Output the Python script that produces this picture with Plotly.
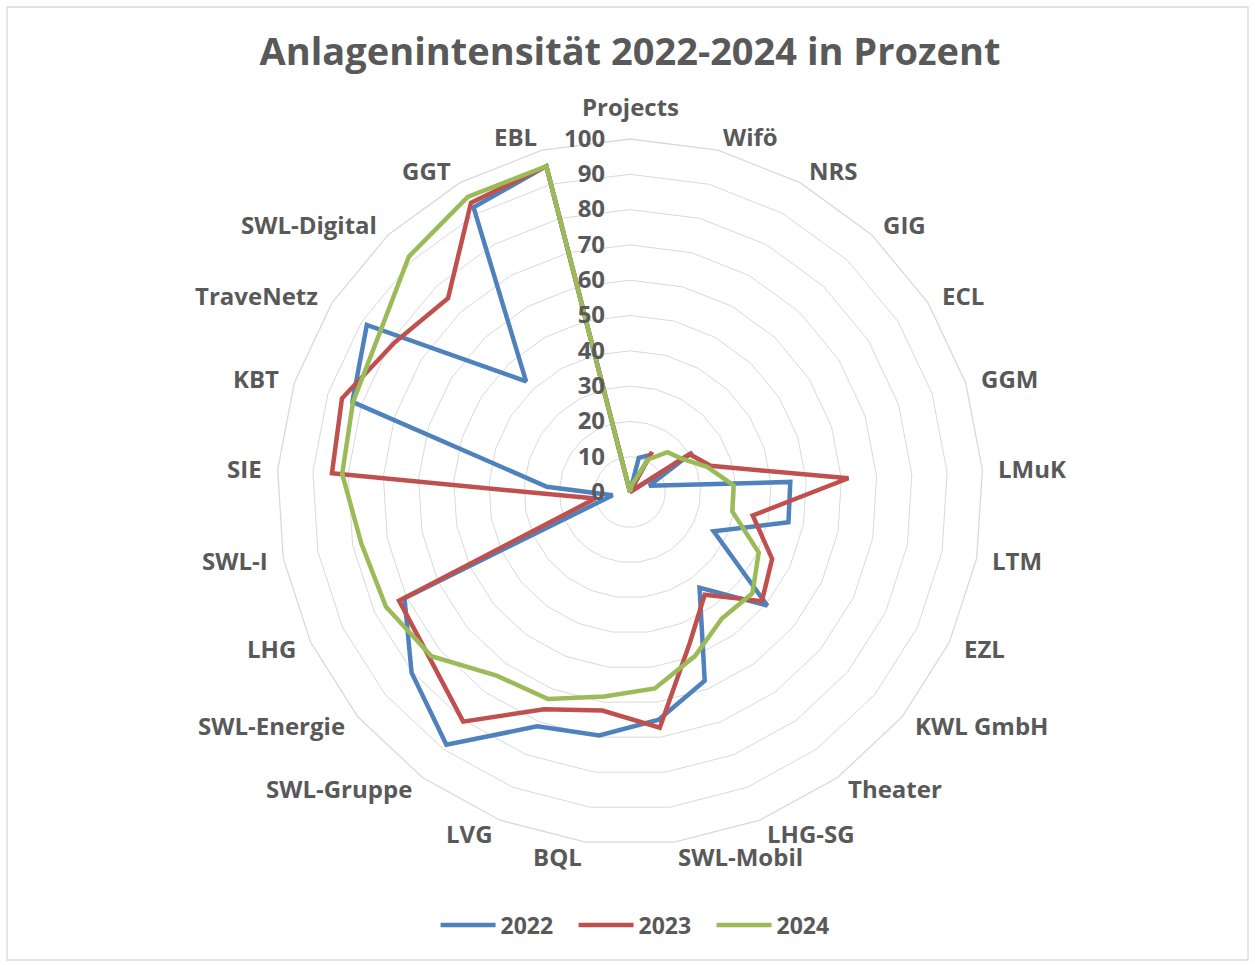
import math
import plotly.graph_objects as go

categories = ["Projects", "Wifö", "NRS", "GIG", "ECL", "GGM", "LMuK", "LTM", "EZL",
              "KWL GmbH", "Theater", "LHG-SG", "SWL-Mobil", "BQL", "LVG", "SWL-Gruppe",
              "SWL-Energie", "LHG", "SWL-I", "SIE", "KBT", "TraveNetz", "SWL-Digital",
              "GGT", "EBL"]

v2022 = [0, 10, 12, 0, 21, 5.7, 45.5, 45.7, 26.2, 50.5, 33.5, 57.5, 65, 69.5, 71.4,
         88.5, 80.3, 70.6, 5, 23.6, 82.7, 88.3, 43, 92, 95.3]
v2023 = [0, 1, 13, 0, 20, 24, 62, 35.4, 44.5, 48.5, 36, 46, 67.3, 62.4, 66.2,
         80.4, 73.7, 72.3, 10, 84.6, 85.8, 79, 75.3, 93.5, 95.3]
v2024 = [0, 2, 10.5, 15.5, 17.5, 23, 29.4, 29.5, 40.3, 45, 44.3, 50, 56.1, 58.4, 63.1,
         64.3, 73, 76.4, 77.5, 81.7, 82.5, 84, 91.5, 95.4, 95.3]

series = [("2022", v2022, "#4F81BD"), ("2023", v2023, "#C0504D"), ("2024", v2024, "#9BBB59")]

FONT = "Open Sans"
GRAY = "#595959"
FS = 24

fig = go.Figure()
for name, vals, col in series:
    fig.add_trace(go.Scatterpolar(
        r=vals + vals[:1], theta=categories + categories[:1], mode="lines", name=name,
        line=dict(color=col, width=4.5), hoverinfo="skip"))

W, H = 1255, 965
cx, cy, R = 630, 492, 353
LR = 367  # label anchor distance (px) from centre

annotations = []
n = len(categories)
for i, cat in enumerate(categories):
    th = math.radians(360.0 * i / n)
    s, c = math.sin(th), math.cos(th)
    px = cx + LR * s
    py = cy - LR * c
    if abs(s) < 1e-6:
        xa, ya = "center", "bottom"
    else:
        xa = "left" if s > 0 else "right"
        ya = "middle"
    annotations.append(dict(text=f"<b>{cat}</b>", x=px / W, y=1 - py / H,
                            xref="paper", yref="paper", xanchor=xa, yanchor=ya,
                            showarrow=False,
                            font=dict(family=FONT, size=FS, color=GRAY)))

fig.update_layout(
    width=W, height=H,
    margin=dict(l=0, r=0, t=0, b=0),
    paper_bgcolor="white",
    title=dict(text="<b>Anlagenintensität 2022-2024 in Prozent</b>",
               font=dict(family=FONT, size=38, color=GRAY),
               x=0.502, xanchor="center", y=1 - 52 / H, yanchor="middle",
               xref="paper", yref="paper"),
    polar=dict(
        domain=dict(x=[(cx - R) / W, (cx + R) / W], y=[(H - cy - R) / H, (H - cy + R) / H]),
        gridshape="linear",
        bgcolor="white",
        radialaxis=dict(range=[0, 100], dtick=10, angle=90, tickangle=90,
                        showline=False, gridcolor="#D9D9D9", gridwidth=1.3,
                        ticks="outside", ticklen=16, tickcolor="rgba(0,0,0,0)",
                        side="counterclockwise",
                        tickfont=dict(family=FONT, size=FS, color=GRAY, weight="bold")),
        angularaxis=dict(rotation=90, direction="clockwise", showgrid=False,
                         showline=True, linecolor="#D9D9D9", linewidth=1.3,
                         showticklabels=False, ticks=""),
    ),
    legend=dict(orientation="h", x=0.512, xanchor="center", y=1 - 925 / H, yanchor="middle",
                font=dict(family=FONT, size=23, color=GRAY, weight="bold"),
                itemwidth=55, entrywidth=68, tracegroupgap=0),
    annotations=annotations,
    shapes=[dict(type="rect", xref="paper", yref="paper",
                 x0=7 / W, x1=1248 / W, y0=1 - 960 / H, y1=1 - 7 / H,
                 line=dict(color="#D9D9D9", width=1.3), layer="below")],
)

fig.write_html("out.html", config={"displayModeBar": False},
               post_script="document.body.style.margin='0';document.body.style.overflow='hidden';")
